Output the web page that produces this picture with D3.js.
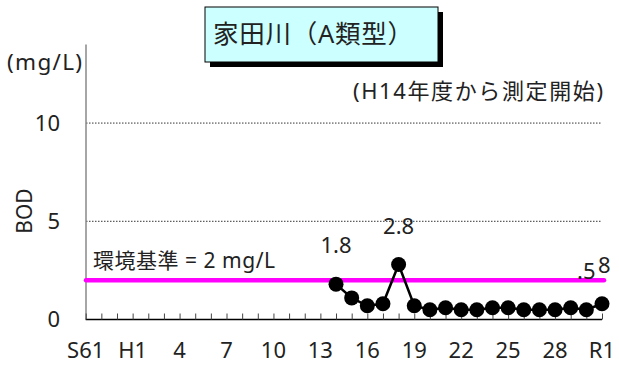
<!DOCTYPE html>
<html><head><meta charset="utf-8">
<script src="https://cdn.jsdelivr.net/npm/d3@7"></script>
<style>
html,body{margin:0;padding:0;background:#fff;}
svg{display:block;font-family:"Noto Sans","Noto Sans CJK JP",sans-serif;}
</style></head>
<body>
<svg id="c" width="619" height="367"></svg>
<script>
// categories: fiscal years S61 .. R1
const years = ["S61","S62","S63"].concat(d3.range(1,31).map(d=>"H"+d)).concat(["R1"]);
const tickLabels = ["S61","H1","4","7","10","13","16","19","22","25","28","R1"];
const tickYears  = ["S61","H1","H4","H7","H10","H13","H16","H19","H22","H25","H28","R1"];
const bodYears = ["H14","H15","H16","H17","H18","H19","H20","H21","H22","H23","H24","H25","H26","H27","H28","H29","H30","R1"];
const bodValues = [1.8,1.1,0.7,0.8,2.8,0.7,0.5,0.6,0.5,0.5,0.6,0.6,0.5,0.5,0.5,0.6,0.5,0.8];
const yTicks = [0,5,10];
const standard = 2;
const pointLabels = [
  {year:"H14", text:"1.8", dx:0, anchor:"middle"},
  {year:"H18", text:"2.8", dx:0, anchor:"middle"},
  {year:"H30", text:".5", dx:0, anchor:"middle"},
  {year:"R1",  text:"8", dx:-4, anchor:"start"}
];

const svg = d3.select("#c");
const x = d3.scalePoint().domain(years).range([85.7, 602]);
const y = d3.scaleLinear().domain([0,14]).range([319.5, 44.5]);
const ink = "#222";

// gridlines
svg.append("g").selectAll("line").data([5,10]).join("line")
  .attr("x1",86).attr("x2",602).attr("y1",d=>y(d)).attr("y2",d=>y(d))
  .attr("stroke","#333").attr("stroke-width",1).attr("stroke-dasharray","1.5,1.5");

// y axis line
svg.append("line").attr("x1",86).attr("x2",86).attr("y1",y(14)).attr("y2",y(0))
  .attr("stroke","#888").attr("stroke-width",1.5);

// y tick labels
svg.append("g").selectAll("text").data(yTicks).join("text")
  .attr("x",60).attr("y",d=>y(d)).attr("dy","0.36em").attr("text-anchor","end")
  .attr("font-size",22).attr("fill",ink).text(d=>d);

// x axis
const xAxis = d3.axisBottom(x).tickSize(-6).tickFormat("");
const gx = svg.append("g").attr("transform",`translate(0,${y(0)})`).call(xAxis);
gx.select(".domain").attr("stroke","#000").attr("stroke-width",1.5).attr("d",`M85.7,0H602`);
gx.selectAll(".tick line").attr("stroke","#444").attr("stroke-width",1);

svg.append("g").selectAll("text").data(tickYears).join("text")
  .attr("x",d=>x(d)).attr("y",358).attr("text-anchor","middle")
  .attr("font-size",22).attr("fill",ink).text((d,i)=>tickLabels[i]);

// standard line
svg.append("line").attr("x1",86).attr("x2",604).attr("y1",y(standard)).attr("y2",y(standard))
  .attr("stroke","#ff00ff").attr("stroke-width",4.5).attr("stroke-linecap","round");
svg.append("text").attr("x",93).attr("y",y(standard)-12)
  .attr("font-size",21).attr("fill",ink)
  .attr("textLength",182).attr("lengthAdjust","spacing").text("環境基準 = 2 mg/L");

// data line and markers
const pts = bodYears.map((d,i)=>({year:d, v:bodValues[i]}));
svg.append("path").datum(pts)
  .attr("d", d3.line().x(d=>x(d.year)).y(d=>y(d.v)))
  .attr("fill","none").attr("stroke","#000").attr("stroke-width",2.5);
svg.append("g").selectAll("circle").data(pts).join("circle")
  .attr("cx",d=>x(d.year)).attr("cy",d=>y(d.v)).attr("r",7.5).attr("fill","#000");

// point labels
const vmap = new Map(pts.map(d=>[d.year,d.v]));
svg.append("g").selectAll("text").data(pointLabels).join("text")
  .attr("x",d=>x(d.year)+d.dx).attr("y",d=>y(vmap.get(d.year))-31)
  .attr("text-anchor",d=>d.anchor)
  .attr("font-size",22).attr("fill",ink).text(d=>d.text);

// axis titles
svg.append("text").attr("x",7).attr("y",70).attr("font-size",22.5).attr("fill",ink)
  .attr("textLength",75).attr("lengthAdjust","spacing").text("(mg/L)");
svg.append("text").attr("transform","translate(32,211) rotate(-90)").attr("text-anchor","middle")
  .attr("font-size",21).attr("fill",ink).text("BOD");
svg.append("text").attr("x",353).attr("y",99)
  .attr("font-size",22).attr("fill",ink)
  .attr("textLength",250).attr("lengthAdjust","spacing").text("(H14年度から測定開始)");

// title box
svg.append("rect").attr("x",210).attr("y",12).attr("width",233).attr("height",55).attr("fill","#000");
svg.append("rect").attr("x",205).attr("y",7).attr("width",233).attr("height",55)
  .attr("fill","#ccffff").attr("stroke","#000").attr("stroke-width",1);
svg.append("text").attr("x",213).attr("y",43)
  .attr("font-size",25.5).attr("fill",ink)
  .attr("textLength",200).attr("lengthAdjust","spacing").text("家田川（A類型）");
</script>
</body></html>
